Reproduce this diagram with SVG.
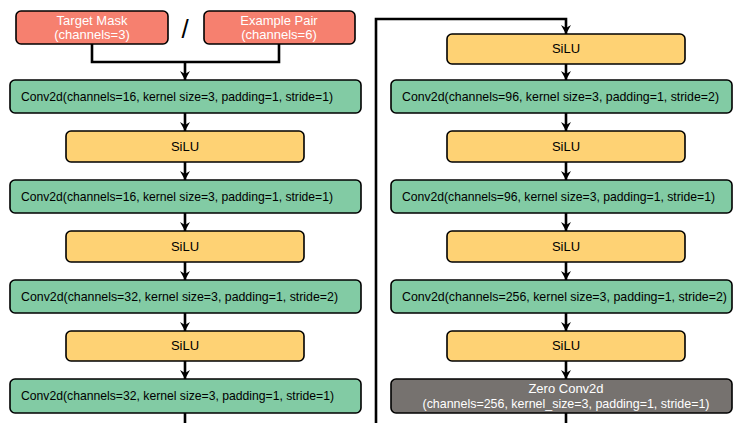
<svg xmlns="http://www.w3.org/2000/svg" width="733" height="423" viewBox="0 0 733 423">
<style>
.box{stroke:#000;stroke-width:1.6}
.in{fill:#F6806F}
.conv{fill:#82CBA4}
.silu{fill:#FED274}
.zero{fill:#76726F}
text{font-family:"Liberation Sans",Arial,sans-serif;font-size:13px}
.w{fill:#fff}
.k{fill:#000}
.c{text-anchor:middle}
.ln{fill:none;stroke:#000;stroke-width:2.6}
</style>
<defs>
<marker id="ah" markerUnits="userSpaceOnUse" markerWidth="12" markerHeight="10" refX="11" refY="5" orient="auto" viewBox="0 0 12 10">
<path d="M2,0 L11,5 L2,10 L5,5 Z" fill="#000"/>
</marker>
</defs>
<rect width="733" height="423" fill="#fff"/>
<g id="connectors">
<polyline class="ln" points="92,44 92,62 279,62 279,44"/>
<line class="ln" x1="185" y1="62" x2="185" y2="80" marker-end="url(#ah)"/>
<line class="ln" x1="185" y1="113" x2="185" y2="131" marker-end="url(#ah)"/>
<line class="ln" x1="185" y1="162" x2="185" y2="180" marker-end="url(#ah)"/>
<line class="ln" x1="185" y1="213" x2="185" y2="231" marker-end="url(#ah)"/>
<line class="ln" x1="185" y1="262" x2="185" y2="280" marker-end="url(#ah)"/>
<line class="ln" x1="185" y1="313" x2="185" y2="331" marker-end="url(#ah)"/>
<line class="ln" x1="185" y1="361" x2="185" y2="379" marker-end="url(#ah)"/>
<line class="ln" x1="185" y1="413" x2="185" y2="425"/>
<polyline class="ln" points="376,425 376,19 566,19 566,34" marker-end="url(#ah)"/>
<line class="ln" x1="566" y1="64" x2="566" y2="80" marker-end="url(#ah)"/>
<line class="ln" x1="566" y1="113" x2="566" y2="131" marker-end="url(#ah)"/>
<line class="ln" x1="566" y1="162" x2="566" y2="180" marker-end="url(#ah)"/>
<line class="ln" x1="566" y1="213" x2="566" y2="231" marker-end="url(#ah)"/>
<line class="ln" x1="566" y1="262" x2="566" y2="280" marker-end="url(#ah)"/>
<line class="ln" x1="566" y1="313" x2="566" y2="331" marker-end="url(#ah)"/>
<line class="ln" x1="566" y1="361" x2="566" y2="379" marker-end="url(#ah)"/>
<line class="ln" x1="566" y1="413" x2="566" y2="425"/>
</g>
<g id="target-mask">
<rect class="box in" x="16" y="11" width="152" height="33" rx="5"/>
<text class="w c" x="92" y="25">Target Mask</text>
<text class="w c" x="92" y="39">(channels=3)</text>
</g>
<g id="slash"><text class="k c" x="185" y="38" style="font-size:26px">/</text></g>
<g id="example-pair">
<rect class="box in" x="204" y="11" width="151" height="33" rx="5"/>
<text class="w c" x="279" y="25">Example Pair</text>
<text class="w c" x="279" y="39">(channels=6)</text>
</g>
<g id="conv-l1"><rect class="box conv" x="10" y="80" width="351" height="33" rx="5"/><text class="k" x="21" y="101" textLength="312" lengthAdjust="spacingAndGlyphs">Conv2d(channels=16, kernel size=3, padding=1, stride=1)</text></g>
<g id="silu-l1"><rect class="box silu" x="66" y="131" width="238" height="31" rx="5"/><text class="k c" x="185" y="151">SiLU</text></g>
<g id="conv-l2"><rect class="box conv" x="10" y="180" width="351" height="33" rx="5"/><text class="k" x="21" y="201" textLength="312" lengthAdjust="spacingAndGlyphs">Conv2d(channels=16, kernel size=3, padding=1, stride=1)</text></g>
<g id="silu-l2"><rect class="box silu" x="66" y="231" width="238" height="31" rx="5"/><text class="k c" x="185" y="251">SiLU</text></g>
<g id="conv-l3"><rect class="box conv" x="10" y="280" width="351" height="33" rx="5"/><text class="k" x="21" y="301" textLength="317" lengthAdjust="spacingAndGlyphs">Conv2d(channels=32, kernel size=3, padding=1, stride=2)</text></g>
<g id="silu-l3"><rect class="box silu" x="66" y="331" width="238" height="30" rx="5"/><text class="k c" x="185" y="350">SiLU</text></g>
<g id="conv-l4"><rect class="box conv" x="10" y="379" width="351" height="34" rx="5"/><text class="k" x="21" y="400" textLength="313" lengthAdjust="spacingAndGlyphs">Conv2d(channels=32, kernel size=3, padding=1, stride=1)</text></g>
<g id="silu-r1"><rect class="box silu" x="447" y="34" width="238" height="30" rx="5"/><text class="k c" x="566" y="53">SiLU</text></g>
<g id="conv-r1"><rect class="box conv" x="391" y="80" width="341" height="33" rx="5"/><text class="k" x="402" y="101" textLength="317" lengthAdjust="spacingAndGlyphs">Conv2d(channels=96, kernel size=3, padding=1, stride=2)</text></g>
<g id="silu-r2"><rect class="box silu" x="447" y="131" width="238" height="31" rx="5"/><text class="k c" x="566" y="151">SiLU</text></g>
<g id="conv-r2"><rect class="box conv" x="391" y="180" width="341" height="33" rx="5"/><text class="k" x="402" y="201" textLength="313" lengthAdjust="spacingAndGlyphs">Conv2d(channels=96, kernel size=3, padding=1, stride=1)</text></g>
<g id="silu-r3"><rect class="box silu" x="447" y="231" width="238" height="31" rx="5"/><text class="k c" x="566" y="251">SiLU</text></g>
<g id="conv-r3"><rect class="box conv" x="391" y="280" width="341" height="33" rx="5"/><text class="k" x="402" y="301" textLength="325" lengthAdjust="spacingAndGlyphs">Conv2d(channels=256, kernel size=3, padding=1, stride=2)</text></g>
<g id="silu-r4"><rect class="box silu" x="447" y="331" width="238" height="30" rx="5"/><text class="k c" x="566" y="350">SiLU</text></g>
<g id="zero-conv"><rect class="box zero" x="391" y="379" width="341" height="34" rx="5"/><text class="w c" x="566" y="393">Zero Conv2d</text><text class="w c" x="566" y="408" textLength="287" lengthAdjust="spacingAndGlyphs">(channels=256, kernel_size=3, padding=1, stride=1)</text></g>
</svg>
